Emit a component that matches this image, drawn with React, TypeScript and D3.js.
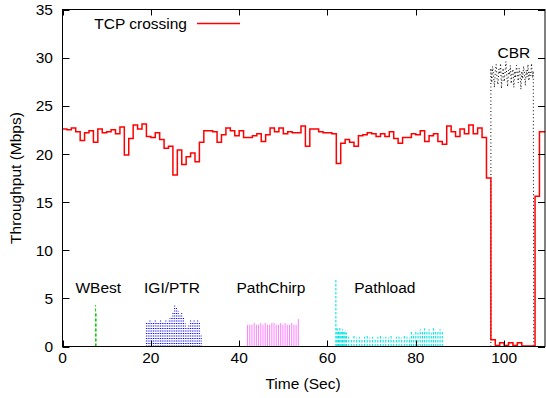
import React from 'react';
import * as d3 from 'd3';

const W = 546;
const H = 398;

const xTicks = [0, 20, 40, 60, 80, 100];
const yTicks = [0, 5, 10, 15, 20, 25, 30, 35];

// TCP crossing throughput, one sample per second starting at t=0 (Mbps)
const tcpValues = [
  22.6, 22.5, 22.7, 22.3, 21.4, 22.2, 22.4, 21.2, 22.6, 22.2,
  22.3, 22.5, 22.1, 22.8, 19.9, 21.6, 23.0, 22.6, 23.1, 21.8,
  21.7, 22.2, 21.5, 20.6, 20.8, 17.8, 20.4, 18.9, 19.7, 20.1,
  19.2, 21.2, 22.4, 22.4, 22.3, 21.2, 22.0, 22.7, 22.4, 21.9,
  22.4, 21.7, 21.7, 21.9, 22.1, 21.3, 22.0, 22.7, 22.3, 22.7,
  22.1, 22.3, 22.2, 22.2, 22.9, 20.8, 22.6, 22.6, 22.3, 22.2,
  22.2, 22.1, 19.0, 21.1, 21.5, 21.2, 20.8, 21.9, 22.0, 22.2,
  22.1, 21.8, 22.1, 21.8, 22.3, 21.6, 21.1, 21.7, 21.7, 22.1,
  22.0, 22.4, 21.3, 21.9, 22.1, 21.3, 21.0, 22.9, 22.3, 21.8,
  22.6, 22.1, 23.0, 22.1, 22.7, 21.7, 17.5, 0.7, 0.1, 0.4,
  0.1, 0.4, 0.1, 0.4, 0.05, 0.05, 0.05, 15.6, 22.3,
];
const tcpEnd = 109.3;

// WBest probes
const wbestStart = 7.5;
const wbestStep = 0.1;
const wbestValues = [4.3, 3.5];

// IGI/PTR probes
const igiStart = 19.0;
const igiStep = 0.4;
const igiValues = [
  2.6, 2.5, 2.7, 2.6, 2.5, 2.7, 2.6, 2.6, 2.7, 2.5,
  2.6, 2.7, 2.6, 2.9, 3.1, 3.6, 4.3, 4.0, 3.7, 3.3,
  3.5, 3.1, 2.4, 1.9, 2.2, 2.7, 2.6, 2.8, 2.5, 2.7,
  2.6, 1.2,
];

// PathChirp probes
const chirpStart = 41.9;
const chirpStep = 0.5;
const chirpValues = [
  2.2, 2.3, 2.3, 2.4, 2.3, 2.3, 2.4, 2.3, 2.4, 2.3,
  2.3, 2.4, 2.4, 2.3, 2.3, 2.4, 2.3, 2.4, 2.3, 2.3,
  2.4, 2.3, 2.3, 2.8,
];

// Pathload probes
const pathloadPeakTime = 61.9;
const pathloadPeakValue = 6.9;
const pathloadAStart = 62.2;
const pathloadAStep = 0.3;
const pathloadAValues = [1.9, 1.7, 2.0, 1.6, 1.8, 1.5, 1.7, 1.4];
const pathloadBStart = 64.8;
const pathloadBStep = 0.6;
const pathloadBValues = [
  1.0, 0.8, 1.1, 0.9, 1.0, 0.8, 1.0, 1.1, 0.9, 1.0,
  0.8, 1.0, 1.1, 0.9, 1.0, 0.9, 1.1, 0.8, 1.0, 1.0,
  0.9, 1.1, 1.0, 0.9,
];
const pathloadCStart = 79.0;
const pathloadCStep = 0.5;
const pathloadCValues = [
  1.5, 1.3, 1.7, 1.4, 1.8, 1.5, 1.9, 1.6, 1.8, 1.4,
  1.9, 1.7, 1.5, 1.8, 1.6,
];

// CBR traffic
const cbrStart = 97.0;
const cbrStep = 0.2;
const cbrValues = [
  28.9, 27.4, 29.1, 28.2, 26.9, 28.6, 29.3, 27.8, 27.2, 28.8,
  28.3, 29.4, 26.8, 28.5, 28.9, 27.5, 28.4, 29.6, 28.1, 27.0,
  28.7, 28.2, 29.2, 27.3, 28.5, 28.8, 26.9, 28.6, 27.9, 29.2,
  28.4, 27.4, 28.9, 28.3, 26.7, 28.6, 27.8, 29.1, 28.4, 27.1,
  28.7, 28.0, 29.3, 27.6, 28.5, 28.1, 29.4, 27.9, 28.6,
];
const cbrEnd = 106.7;

const annotations = [
  { text: 'WBest', t: 8.1, v: 5.5 },
  { text: 'IGI/PTR', t: 24.8, v: 5.5 },
  { text: 'PathChirp', t: 47.2, v: 5.5 },
  { text: 'Pathload', t: 73.0, v: 5.5 },
  { text: 'CBR', t: 102.2, v: 30.0 },
];

const FONT = '"Liberation Sans", Arial, Helvetica, sans-serif';

export default function App() {
  const x = d3.scaleLinear().domain([0, tcpEnd]).range([62.5, 545.2]);
  const y = d3.scaleLinear().domain([0, 35]).range([346.5, 9.5]);

  const tcpPts: [number, number][] = tcpValues.map((v, i) => [i, v] as [number, number]);
  tcpPts.push([tcpEnd, tcpValues[tcpValues.length - 1]]);
  const tcpPath = d3
    .line<[number, number]>()
    .x((d) => x(d[0]))
    .y((d) => y(d[1]))
    .curve(d3.curveStepAfter)(tcpPts) as string;

  const spikes = (start: number, step: number, values: number[]) =>
    values
      .map((v, i) => {
        const xx = x(start + i * step);
        return `M${xx},${y(0)}L${xx},${y(v)}`;
      })
      .join('');

  const wbestPath = spikes(wbestStart, wbestStep, wbestValues);
  const igiPath = spikes(igiStart, igiStep, igiValues);
  const chirpPath = spikes(chirpStart, chirpStep, chirpValues);
  const pathloadPath =
    spikes(pathloadPeakTime, 1, [pathloadPeakValue]) +
    spikes(pathloadAStart, pathloadAStep, pathloadAValues) +
    spikes(pathloadBStart, pathloadBStep, pathloadBValues) +
    spikes(pathloadCStart, pathloadCStep, pathloadCValues);

  const cbrPts: [number, number][] = [[cbrStart, 0]];
  cbrValues.forEach((v, i) => cbrPts.push([cbrStart + i * cbrStep, v]));
  cbrPts.push([cbrEnd, 0]);
  const cbrPath = d3
    .line<[number, number]>()
    .x((d) => x(d[0]))
    .y((d) => y(d[1]))(cbrPts) as string;

  const left = 62.5;
  const right = 545;
  const top = 9.5;
  const bottom = 346.5;

  return (
    <svg
      width={W}
      height={H}
      style={{ position: 'fixed', left: 0, top: 0, background: '#fff' }}
      fontFamily={FONT}
    >
      <rect x={0} y={0} width={W} height={H} fill="#fff" />
      {/* data */}
      <path d={cbrPath} fill="none" stroke="#000" strokeWidth={1} strokeDasharray="1,2.5" />
      <path d={wbestPath} fill="none" stroke="#00cc00" strokeWidth={1} strokeDasharray="3,2" />
      <path d={igiPath} fill="none" stroke="#0000ff" strokeWidth={1} strokeDasharray="1,1.5" />
      <path d={chirpPath} fill="none" stroke="#ff00ff" strokeWidth={1} strokeDasharray="1,1" />
      <path d={pathloadPath} fill="none" stroke="#00e6e6" strokeWidth={1.1} strokeDasharray="2.5,1.5" />
      <path d={tcpPath} fill="none" stroke="#ff0000" strokeWidth={1.5} />

      {/* ticks */}
      {yTicks.map((t) => (
        <g key={'y' + t}>
          <line x1={left} x2={left + 7} y1={Math.round(y(t)) + 0.5} y2={Math.round(y(t)) + 0.5} stroke="#000" />
          <line x1={right - 7} x2={right} y1={Math.round(y(t)) + 0.5} y2={Math.round(y(t)) + 0.5} stroke="#000" />
          <text x={53} y={y(t)} dy="0.36em" textAnchor="end" fontSize={15.5} fill="#000">
            {t}
          </text>
        </g>
      ))}
      {xTicks.map((t) => (
        <g key={'x' + t}>
          <line x1={Math.round(x(t)) + 0.5} x2={Math.round(x(t)) + 0.5} y1={bottom} y2={bottom - 6} stroke="#000" />
          <line x1={Math.round(x(t)) + 0.5} x2={Math.round(x(t)) + 0.5} y1={top} y2={top + 6} stroke="#000" />
          <text x={x(t)} y={363} textAnchor="middle" fontSize={15.5} fill="#000">
            {t}
          </text>
        </g>
      ))}

      {/* border */}
      <rect x={left} y={top} width={right - left} height={bottom - top} fill="none" stroke="#000" strokeWidth={1} />

      {/* annotations */}
      {annotations.map((a) => (
        <text key={a.text} x={x(a.t)} y={a.text === 'CBR' ? 57.5 : 293} textAnchor="middle" fontSize={15.5} fill="#000">
          {a.text}
        </text>
      ))}

      {/* legend */}
      <text x={187} y={28.5} textAnchor="end" fontSize={15.5} fill="#000">
        TCP crossing
      </text>
      <line x1={197} x2={240} y1={23.5} y2={23.5} stroke="#ff0000" strokeWidth={1.5} />

      {/* axis titles */}
      <text x={303} y={389} textAnchor="middle" fontSize={15.5} fill="#000">
        Time (Sec)
      </text>
      <text transform="translate(21,178) rotate(-90)" textAnchor="middle" fontSize={15.5} fill="#000">
        Throughput (Mbps)
      </text>
    </svg>
  );
}
